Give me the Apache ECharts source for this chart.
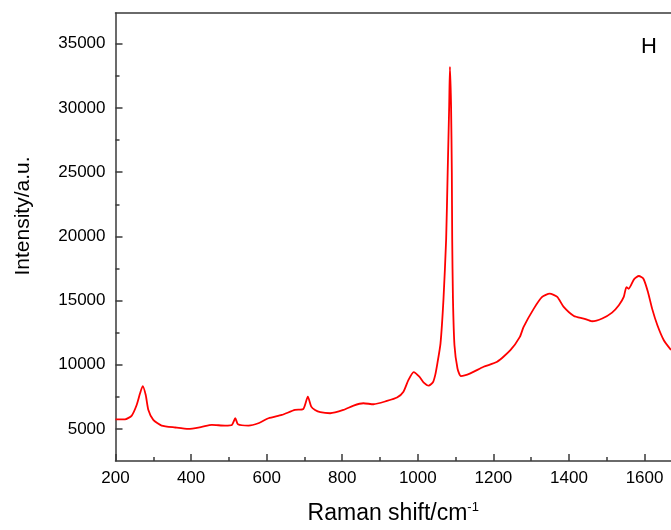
<!DOCTYPE html>
<html>
<head>
<meta charset="utf-8">
<script src="https://cdn.jsdelivr.net/npm/echarts@6/dist/echarts.min.js"></script>
<style>
    html, body { margin: 0; padding: 0; background: #fff; }
    #chart { width: 671px; height: 530px; }
</style>
</head>
<body>
<div id="chart"></div>
<script>
// Raman spectrum, sample H
const ramanShift = [
    200, 225, 243, 256, 265, 272, 280, 287, 300, 322, 358, 393, 428, 455, 490, 508,
    517, 524, 552, 578, 605, 640, 675, 697, 709, 718, 728, 742, 768, 803, 830, 856,
    883, 918, 945, 962, 975, 989, 1004, 1015, 1029, 1040, 1046, 1051, 1060, 1068, 1075,
    1079, 1083, 1085, 1088, 1090, 1091, 1093, 1097, 1105, 1114, 1139, 1174, 1210, 1245,
    1270, 1280, 1307, 1329, 1349, 1369, 1386, 1413, 1439, 1461, 1488, 1514, 1532, 1545,
    1552, 1558, 1572, 1585, 1597, 1609, 1620, 1634, 1651, 1670
]
const intensity = [
    5750, 5750, 6040, 6860, 7770, 8340, 7640, 6475, 5700, 5260, 5110, 5000, 5155, 5310, 5260, 5310,
    5830, 5365, 5260, 5440, 5830, 6090, 6475, 6550, 7510, 6740, 6475, 6300, 6220, 6475, 6820, 7000,
    6920, 7175, 7440, 7900, 8800, 9430, 9070, 8630, 8370, 8630, 9190, 9970, 11650, 15150, 19800,
    24980, 30155, 33200, 30155, 24980, 19800, 15150, 11520, 9710, 9115, 9325, 9840, 10230, 11130,
    12170, 12950, 14370, 15280, 15540, 15280, 14500, 13800, 13600, 13385, 13600, 14060, 14630, 15280,
    16050, 15920, 16650, 16910, 16700, 15670, 14370, 13075, 11910, 11150
]
const xMajor = [200, 400, 600, 800, 1000, 1200, 1400, 1600]
const xMinor = [300, 500, 700, 900, 1100, 1300, 1500]
const yMajor = [5000, 10000, 15000, 20000, 25000, 30000, 35000]
const yMinor = [7500, 12500, 17500, 22500, 27500, 32500]

const font = 'Liberation Sans, Arial, sans-serif'
const axisColor = '#3a3a3a'

let myChart = echarts.init(document.getElementById('chart'))
const points = ramanShift.map((x, i) => [x, intensity[i]])
const plain = v => String(v)

const options = {
    backgroundColor: '#fff',
    animation: false,
    grid: { left: 115.5, right: 0, top: 13, bottom: 67, containLabel: false },
    xAxis: [
        {
            type: 'value', position: 'bottom', min: 200, max: 1670,
            splitLine: { show: false },
            axisLine: { lineStyle: { color: axisColor, width: 1.5 } },
            axisTick: { inside: true, length: 7, customValues: xMajor, lineStyle: { color: axisColor, width: 1.5 } },
            axisLabel: { customValues: xMajor, formatter: plain, fontSize: 17, color: '#000', fontFamily: font, margin: 9 },
            name: 'Raman shift/cm{sup|-1}',
            nameLocation: 'middle',
            nameGap: 40,
            nameTextStyle: {
                fontSize: 23, color: '#000', fontFamily: font,
                rich: { sup: { fontSize: 13, color: '#000', fontFamily: font, verticalAlign: 'top', padding: [0, 0, 12, 0] } }
            }
        },
        {
            type: 'value', position: 'bottom', min: 200, max: 1670,
            splitLine: { show: false },
            axisLine: { show: false },
            axisTick: { inside: true, length: 4, customValues: xMinor, lineStyle: { color: axisColor, width: 1.5 } },
            axisLabel: { show: false }
        },
        {
            type: 'value', position: 'top', min: 200, max: 1670,
            splitLine: { show: false },
            axisLine: { lineStyle: { color: axisColor, width: 1.5 } },
            axisTick: { show: false },
            axisLabel: { show: false }
        }
    ],
    yAxis: [
        {
            type: 'value', position: 'left', min: 2500, max: 37400,
            splitLine: { show: false },
            axisLine: { show: true, lineStyle: { color: axisColor, width: 1.5 } },
            axisTick: { show: true, inside: true, length: 7, customValues: yMajor, lineStyle: { color: axisColor, width: 1.5 } },
            axisLabel: { customValues: yMajor, formatter: plain, fontSize: 17, color: '#000', fontFamily: font, margin: 10 },
            name: 'Intensity/a.u.',
            nameLocation: 'middle',
            nameGap: 82,
            nameTextStyle: { fontSize: 21, color: '#000', fontFamily: font, padding: [0, 0, 0, 42] }
        },
        {
            type: 'value', position: 'left', min: 2500, max: 37400,
            splitLine: { show: false },
            axisLine: { show: false },
            axisTick: { show: true, inside: true, length: 4, customValues: yMinor, lineStyle: { color: axisColor, width: 1.5 } },
            axisLabel: { show: false }
        }
    ],
    graphic: [
        {
            type: 'text', left: 641, top: 36,
            style: { text: 'H', fontSize: 22, fill: '#000', fontFamily: font }
        }
    ],
    series: [
        {
            type: 'line',
            xAxisIndex: 0,
            yAxisIndex: 0,
            data: points,
            showSymbol: false,
            smooth: 0.2,
            lineStyle: { color: '#ff0000', width: 1.8 }
        }
    ]
}
myChart.setOption(options)
</script>
</body>
</html>
